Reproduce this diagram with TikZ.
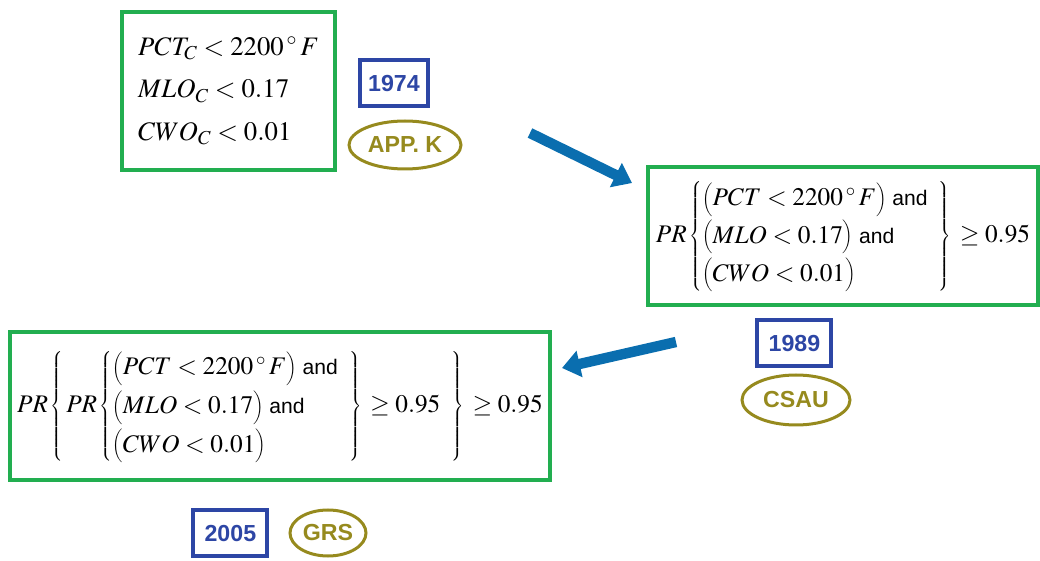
\documentclass[tikz,border=0pt]{standalone}
\usepackage{mathptmx}
\DeclareSymbolFont{largesymbols}{OMX}{cmex}{m}{n}
\usepackage[no-math]{fontspec}
\setmainfont{Liberation Serif}
\setsansfont{Liberation Sans}
\usetikzlibrary{arrows.meta,shapes.geometric}

\definecolor{critgreen}{RGB}{34,174,80}
\definecolor{yearblue}{RGB}{45,70,165}
\definecolor{refolive}{RGB}{150,138,30}
\definecolor{arrowblue}{RGB}{10,110,175}

\newcommand{\andw}{\mbox{\sffamily\fontsize{15}{17}\selectfont\ and}}
\newcommand{\degF}{2200\,{}^{\circ}\,F}

\begin{document}
\begin{tikzpicture}[
        critbox/.style={draw=critgreen, line width=1mm, inner sep=0pt, outer sep=0pt},
        yearbox/.style={draw=yearblue, line width=1mm, inner sep=0pt,
            minimum width=1.85cm, minimum height=1.15cm,
            font=\sffamily\bfseries\fontsize{16.5}{18}\selectfont, text=yearblue},
        refoval/.style={ellipse, draw=refolive, line width=0.75mm, inner sep=0pt,
            font=\sffamily\bfseries\fontsize{16.5}{18}\selectfont, text=refolive},
        blockarrow/.style={draw=arrowblue, line width=2.6mm,
            -{Triangle[width=6.5mm,length=4.5mm]}}
    ]
    \useasboundingbox (0,0) rectangle (26,14.025);

    % Deterministic limits
    \node[critbox, minimum width=5.325cm, minimum height=3.95cm, align=left,
        font=\fontsize{19}{30.5}\selectfont] (det) at (5.7125,11.75)
        {$PCT_C < \degF$\\ $MLO_C < 0.17$\\ $CWO_C < 0.01$};
    \node[yearbox, minimum width=1.7cm] (y74) at (9.85,11.94) {1974};
    \node[refoval, minimum width=2.8cm, minimum height=1.2cm] (appk) at (10.125,10.4) {APP. K};

    % Probabilistic limits
    \node[critbox, minimum width=9.75cm, minimum height=3.45cm,
        font=\fontsize{18}{20}\selectfont] (prob) at (21.075,8.125)
        {\renewcommand{\arraystretch}{1.34}%
        $PR\left\{\begin{array}{@{}l@{\;\;}}
            \big(PCT < \degF\big)\andw\\
            \big(MLO < 0.17\big)\andw\\
            \big(CWO < 0.01\big)
        \end{array}\right\}\,\geq 0.95$};
    \node[yearbox] (y89) at (19.86,5.44) {1989};
    \node[refoval, minimum width=2.7cm, minimum height=1.25cm] (csau) at (19.9,4.025) {CSAU};

    % Best-estimate plus uncertainty
    \node[critbox, minimum width=13.5cm, minimum height=3.7cm,
        font=\fontsize{18}{20}\selectfont] (grs) at (7.0,3.875)
        {\renewcommand{\arraystretch}{1.38}%
        $PR\left\{\,PR\left\{\begin{array}{@{}l@{\;\;}}
            \big(PCT < \degF\big)\andw\\
            \big(MLO < 0.17\big)\andw\\
            \big(CWO < 0.01\big)
        \end{array}\right\}\,\geq 0.95\;\;\right\}\,\geq 0.95$};
    \node[yearbox] (y05) at (5.76,0.69) {2005};
    \node[refoval, minimum width=1.9cm, minimum height=1.15cm] (grsoval) at (8.2,0.7) {GRS};

    % Arrows between the stages
    \coordinate (a1s) at (13.25,10.7);
    \coordinate (a1e) at (15.8,9.45);
    \coordinate (a2s) at (16.9,5.475);
    \coordinate (a2e) at (14.05,4.825);
    \draw[blockarrow] (a1s) -- (a1e);
    \draw[blockarrow] (a2s) -- (a2e);
\end{tikzpicture}
\end{document}
